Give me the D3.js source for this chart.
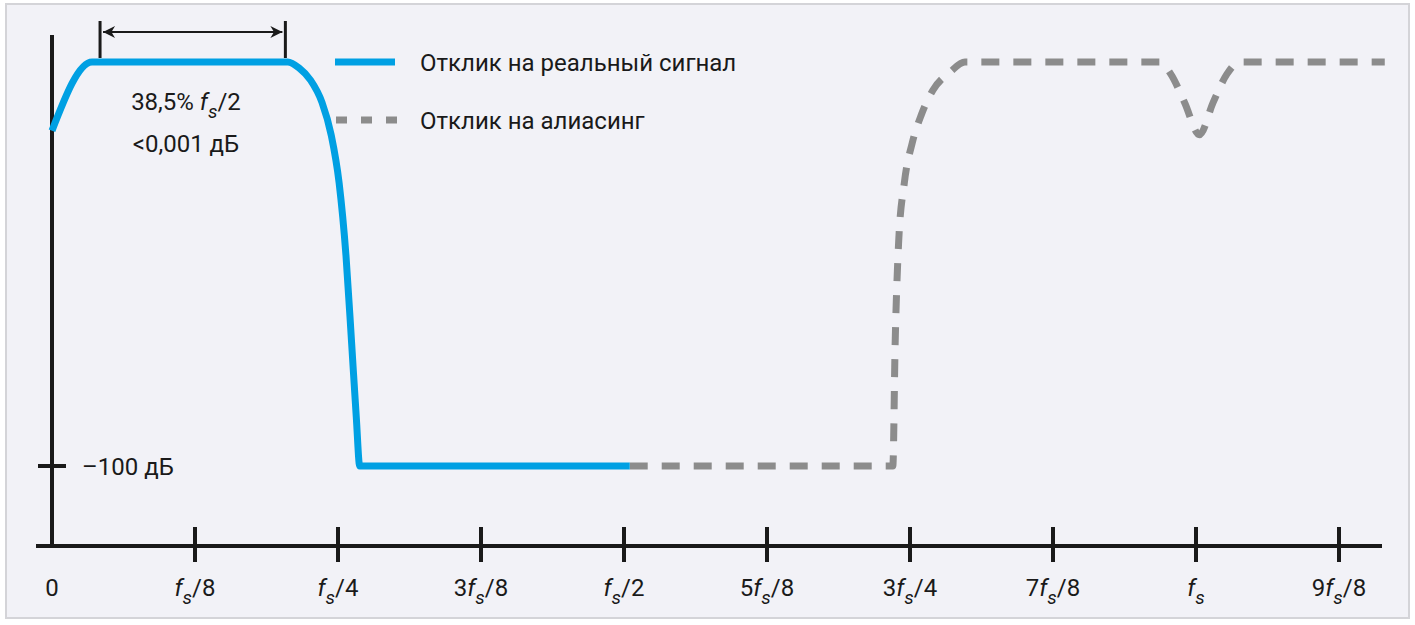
<!DOCTYPE html>
<html><head><meta charset="utf-8">
<script src="https://cdn.jsdelivr.net/npm/d3@7"></script>
<style>
body{margin:0;background:#fff;}
text{font-family:"Liberation Sans Narrow","Roboto",sans-serif;fill:#1a1a1a;}
</style></head><body>
<svg id="c" width="1415" height="625"></svg>
<script>
// frequency in units of fs, level in dB
const tickValues = [0, 1/8, 2/8, 3/8, 4/8, 5/8, 6/8, 7/8, 1, 9/8];
const tickLabels = [["0"], ["", "/8"], ["", "/4"], ["3", "/8"], ["", "/2"], ["5", "/8"], ["3", "/4"], ["7", "/8"], ["", ""], ["9", "/8"]];
const realF  = [0, 0.035, 0.206, 0.216, 0.226, 0.236, 0.244, 0.251, 0.257, 0.262, 0.266, 0.269, 0.505];
const realDb = [-17, 0, 0, -1.5, -4.5, -10, -18, -30, -48, -70, -88, -100, -100];
const aliasF  = [0.505, 0.735, 0.737, 0.740, 0.745, 0.752, 0.760, 0.770, 0.785, 0.798, 0.968, 0.978, 0.990, 1.003, 1.015, 1.027, 1.038, 1.165];
const aliasDb = [-100, -100, -70, -45, -30, -20, -13, -7, -2.5, 0, 0, -3, -10, -18, -10, -3, 0, 0];
const legendLabels = ["Отклик на реальный сигнал", "Отклик на алиасинг"];

const svg = d3.select("#c");
svg.append("rect").attr("x", 6).attr("y", 4).attr("width", 1403).attr("height", 614)
  .attr("fill", "#f2f2f7").attr("stroke", "#d4d4d8").attr("stroke-width", 2);

const x = d3.scaleLinear().domain([0, 9/8]).range([52, 1339]);
const y = d3.scaleLinear().domain([-120, 0]).range([546.8, 62]);

// axes
svg.append("line").attr("x1", 36).attr("x2", 1382).attr("y1", 546).attr("y2", 546)
  .attr("stroke", "#1a1a1a").attr("stroke-width", 4);
svg.append("line").attr("x1", 52).attr("x2", 52).attr("y1", 35).attr("y2", 546)
  .attr("stroke", "#1a1a1a").attr("stroke-width", 4);
svg.selectAll(".tk").data(tickValues.slice(1)).join("line")
  .attr("x1", d => x(d)).attr("x2", d => x(d)).attr("y1", 527).attr("y2", 562)
  .attr("stroke", "#1a1a1a").attr("stroke-width", 4);
const tl = svg.selectAll(".tl").data(tickValues).join("text")
  .attr("x", d => x(d)).attr("y", 596).attr("text-anchor", "middle").attr("font-size", 24);
tl.each(function(d, i) {
  const t = d3.select(this), lab = tickLabels[i];
  if (lab.length === 1) { t.text(lab[0]); return; }
  t.append("tspan").text(lab[0]);
  t.append("tspan").attr("font-style", "italic").text("f");
  t.append("tspan").attr("font-style", "italic").attr("font-size", 19).attr("dy", 8).text("s");
  t.append("tspan").attr("dy", -8).text(lab[1]);
});
// -100 dB tick
svg.append("line").attr("x1", 38).attr("x2", 66).attr("y1", y(-100)).attr("y2", y(-100))
  .attr("stroke", "#1a1a1a").attr("stroke-width", 4);
svg.append("text").attr("x", 82).attr("y", y(-100) + 9).attr("font-size", 24).text("–100 дБ");

// curves
const line = d3.line().x(d => x(d[0])).y(d => y(d[1])).curve(d3.curveMonotoneX);
svg.append("path").datum(aliasF.map((f, i) => [f, aliasDb[i]])).attr("d", line)
  .attr("fill", "none").attr("stroke", "#8c8c8c").attr("stroke-width", 7)
  .attr("stroke-dasharray", "18,14");
svg.append("path").datum(realF.map((f, i) => [f, realDb[i]])).attr("d", line)
  .attr("fill", "none").attr("stroke", "#00a0e3").attr("stroke-width", 7);

// passband arrow
const defs = svg.append("defs");
defs.append("marker").attr("id", "ah").attr("viewBox", "0 0 10 10").attr("refX", 10).attr("refY", 5)
  .attr("markerWidth", 18).attr("markerHeight", 12).attr("markerUnits", "userSpaceOnUse")
  .attr("orient", "auto-start-reverse")
  .append("path").attr("d", "M0,0 L10,5 L0,10 L3,5 Z").attr("fill", "#1a1a1a");
[0.042, 0.204].forEach(f => svg.append("line").attr("x1", x(f)).attr("x2", x(f))
  .attr("y1", 21).attr("y2", 58).attr("stroke", "#1a1a1a").attr("stroke-width", 3));
svg.append("line").attr("x1", x(0.042) + 3).attr("x2", x(0.204) - 3).attr("y1", 32).attr("y2", 32)
  .attr("stroke", "#1a1a1a").attr("stroke-width", 2)
  .attr("marker-start", "url(#ah)").attr("marker-end", "url(#ah)");
const t1 = svg.append("text").attr("x", 186).attr("y", 110).attr("text-anchor", "middle").attr("font-size", 24);
t1.append("tspan").text("38,5% ");
t1.append("tspan").attr("font-style", "italic").text("f");
t1.append("tspan").attr("font-style", "italic").attr("font-size", 19).attr("dy", 8).text("s");
t1.append("tspan").attr("dy", -8).text("/2");
svg.append("text").attr("x", 186).attr("y", 152).attr("text-anchor", "middle").attr("font-size", 24).text("<0,001 дБ");

// legend
svg.append("line").attr("x1", 335).attr("x2", 395).attr("y1", 62).attr("y2", 62)
  .attr("stroke", "#00a0e3").attr("stroke-width", 7);
svg.append("line").attr("x1", 336).attr("x2", 398).attr("y1", 120).attr("y2", 120)
  .attr("stroke", "#8c8c8c").attr("stroke-width", 7).attr("stroke-dasharray", "11,14");
svg.selectAll(".lg").data(legendLabels).join("text")
  .attr("x", 420).attr("y", (d, i) => 71 + i * 58).attr("font-size", 24).text(d => d);
</script></body></html>
